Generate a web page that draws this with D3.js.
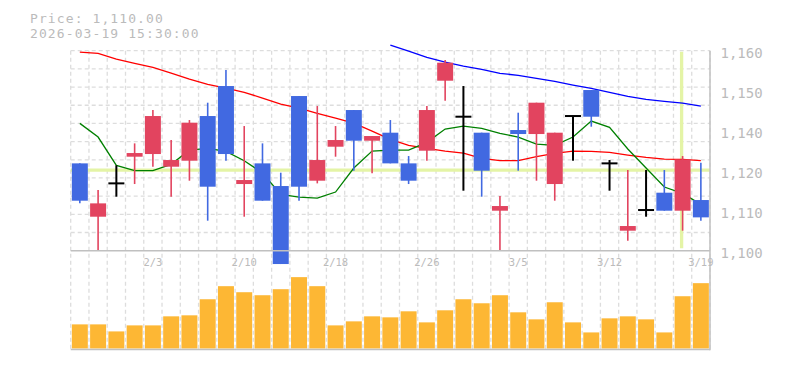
<!DOCTYPE html>
<meta charset="utf-8">
<html>
<script src="https://d3js.org/d3.v7.min.js"></script>
<style>
    body { margin: 0; background: #fff; }
    text { font-family: "DejaVu Sans Mono", "Liberation Mono", monospace; fill: #bbb; }
</style>
<body>
<div id="chart"></div>
<script>

    // daily candles, 1/28 - 3/19
    var dates = ["1/28","1/29","1/30","2/2","2/3","2/4","2/5","2/6","2/9","2/10",
        "2/12","2/13","2/16","2/17","2/18","2/19","2/20","2/24","2/25","2/26",
        "2/27","3/2","3/3","3/4","3/5","3/6","3/9","3/10","3/11","3/12",
        "3/13","3/16","3/17","3/18","3/19"];
    var opens  = [1126.2,1110.2,1120.2,1128.2,1129.0,1125.2,1127.0,1140.4,1149.4,1120.0,
        1126.2,1119.4,1146.4,1121.0,1131.2,1142.2,1133.0,1135.4,1126.2,1130.0,
        1151.0,1140.2,1135.4,1112.0,1136.2,1135.0,1120.0,1140.4,1148.2,1126.2,
        1106.0,1112.2,1117.4,1112.0,1115.2];
    var highs  = [1126.2,1118.2,1125.6,1132.2,1142.2,1133.2,1139.2,1144.4,1154.2,1137.4,
        1132.2,1123.4,1146.4,1143.4,1137.4,1142.2,1134.4,1139.2,1128.4,1143.4,
        1157.2,1149.4,1135.4,1116.4,1141.4,1144.4,1135.4,1140.4,1148.2,1127.2,
        1124.2,1124.2,1124.2,1128.4,1126.4];
    var lows   = [1114.2,1100.0,1116.2,1120.0,1125.2,1116.2,1121.0,1109.0,1127.0,1110.2,
        1115.0,1096.0,1115.0,1120.2,1128.2,1124.0,1123.2,1126.2,1120.0,1127.0,
        1145.0,1118.0,1116.2,1100.0,1124.0,1121.0,1115.0,1127.0,1137.2,1118.0,
        1103.0,1110.2,1112.0,1106.0,1109.0];
    var closes = [1115.0,1114.2,1120.2,1129.3,1140.4,1127.2,1138.4,1119.2,1129.0,1121.2,
        1115.0,1096.0,1119.2,1127.2,1133.2,1133.0,1134.4,1126.2,1121.0,1142.2,
        1156.4,1140.2,1124.0,1113.4,1135.0,1144.4,1135.4,1140.4,1140.2,1126.2,
        1107.4,1112.2,1112.0,1127.4,1110.0];
    var volumes = [24000,24000,17000,23000,23000,32000,33000,49000,62000,56000,
        53000,59000,71000,62000,23000,27000,32000,31000,37000,26000,
        38000,49000,45000,53000,36000,29000,46000,26000,16000,30000,
        32000,29000,16000,52000,65000];

    // moving averages (short / middle / long)
    var ma5  = [1138.2,1134.1,1125.6,1124.0,1124.0,1125.9,1130.2,1130.7,1129.8,1127.0,
        1123.3,1116.9,1116.1,1115.8,1117.6,1124.8,1129.9,1130.2,1130.2,1132.5,
        1136.5,1137.4,1136.7,1135.2,1134.1,1132.0,1131.6,1134.1,1138.9,1137.0,
        1130.5,1124.8,1119.1,1117.2,1113.9];
    var ma25 = [1159.6,1159.2,1157.5,1156.2,1155.0,1153.3,1151.5,1149.9,1148.8,1147.5,
        1145.8,1144.0,1142.8,1141.2,1139.8,1138.3,1135.9,1133.4,1131.6,1130.7,
        1129.9,1129.3,1127.7,1127.0,1127.0,1128.2,1129.2,1129.9,1129.8,1129.5,
        1128.7,1128.0,1127.5,1127.4,1127.0];
    var ma75 = [null,null,null,null,null,null,null,null,null,null,
        null,null,null,null,null,null,null,1161.7,1159.9,1158.0,
        1156.6,1155.4,1154.4,1153.2,1152.6,1151.7,1150.8,1149.7,1148.7,1147.5,
        1146.3,1145.4,1144.8,1144.3,1143.4];

    // axis labels
    var xTickDates = ["2/3","2/10","2/18","2/26","3/5","3/12","3/19"];
    var yTickValues = [1159.4,1147.4,1135.4,1123.4,1111.4,1099.4];
    var yTickLabels = ["1,160","1,150","1,140","1,120","1,110","1,100"];

    // crosshair + header
    var crossDate = "3/18";
    var crossPrice = 1124.2;
    var headerLines = ["Price: 1,110.00", "2026-03-19 15:30:00"];

    var W = 785, H = 370;
    var left = 70.7, right = 710,
        priceTop = 50.7, priceBottom = 250.7,
        volTop = 251, volBottom = 348.5;

    var svg = d3.select("#chart").append("svg")
        .attr("width", W).attr("height", H);

    var x = d3.scaleBand()
        .domain(dates)
        .range([left, right])
        .paddingInner(0.125)
        .paddingOuter(0.0625);
    var step = x.step();
    var cx = function (d) { return x(d) + x.bandwidth() / 2; };

    var y = d3.scaleLinear().domain([1100, 1160]).range([priceBottom, priceTop]);
    var yv = d3.scaleLinear().domain([0, 97000]).range([volBottom, volTop]);

    // grid
    var grid = svg.append("g")
        .attr("stroke", "#ddd")
        .attr("stroke-dasharray", "4,3")
        .attr("stroke-width", 1.3);
    grid.selectAll("line.v").data(d3.range(dates.length + 1)).enter().append("line")
        .attr("x1", function (i) { return left + i * step; })
        .attr("x2", function (i) { return left + i * step; })
        .attr("y1", priceTop).attr("y2", volBottom + 1);
    grid.selectAll("line.h").data(d3.range(11)).enter().append("line")
        .attr("x1", left).attr("x2", right)
        .attr("y1", function (i) { return priceTop + i * (priceBottom - priceTop) / 11; })
        .attr("y2", function (i) { return priceTop + i * (priceBottom - priceTop) / 11; });

    // crosshair
    svg.append("line")
        .attr("x1", cx(crossDate) - 1).attr("x2", cx(crossDate) - 1)
        .attr("y1", priceTop + 1).attr("y2", priceBottom - 2.5)
        .attr("stroke", "#e4f4a6").attr("stroke-width", 3.3);
    svg.append("line")
        .attr("x1", left).attr("x2", right)
        .attr("y1", y(crossPrice)).attr("y2", y(crossPrice))
        .attr("stroke", "#e4f4a6").attr("stroke-width", 3.3);

    // moving averages
    var maLine = function (vals, color) {
        var line = d3.line()
            .defined(function (d) { return d[1] != null; })
            .x(function (d) { return cx(d[0]); })
            .y(function (d) { return y(d[1]); });
        svg.append("path")
            .datum(dates.map(function (d, i) { return [d, vals[i]]; }))
            .attr("fill", "none")
            .attr("stroke", color)
            .attr("stroke-width", 1.3)
            .attr("d", line);
    };
    maLine(ma25, "#ff0000");
    maLine(ma75, "#0000ff");
    maLine(ma5, "#008000");

    // candles
    var candles = dates.map(function (d, i) {
        return { date: d, o: opens[i], h: highs[i], l: lows[i], c: closes[i] };
    });
    var colorOf = function (d) {
        if (d.c > d.o) return "#e2445f";
        if (d.c < d.o) return "#4169e1";
        return "#000";
    };
    var cg = svg.append("g");
    cg.selectAll("line.wick").data(candles).enter().append("line")
        .attr("x1", function (d) { return cx(d.date); })
        .attr("x2", function (d) { return cx(d.date); })
        .attr("y1", function (d) { return y(d.h); })
        .attr("y2", function (d) { return y(d.l); })
        .attr("stroke", colorOf)
        .attr("stroke-width", function (d) { return d.o == d.c ? 2 : 1.6; });
    cg.selectAll("rect.body").data(candles.filter(function (d) { return d.o != d.c; }))
        .enter().append("rect")
        .attr("x", function (d) { return x(d.date); })
        .attr("width", x.bandwidth())
        .attr("y", function (d) { return y(Math.max(d.o, d.c)); })
        .attr("height", function (d) { return Math.abs(y(d.o) - y(d.c)); })
        .attr("fill", colorOf);
    cg.selectAll("line.doji").data(candles.filter(function (d) { return d.o == d.c; }))
        .enter().append("line")
        .attr("x1", function (d) { return x(d.date); })
        .attr("x2", function (d) { return x(d.date) + x.bandwidth(); })
        .attr("y1", function (d) { return y(d.o); })
        .attr("y2", function (d) { return y(d.o); })
        .attr("stroke", "#000").attr("stroke-width", 2);

    // volume
    svg.append("g").selectAll("rect").data(volumes).enter().append("rect")
        .attr("x", function (d, i) { return x(dates[i]); })
        .attr("width", x.bandwidth())
        .attr("y", function (d) { return yv(d); })
        .attr("height", function (d) { return volBottom - yv(d); })
        .attr("fill", "#fdb734");

    // frame
    var frame = svg.append("g").attr("stroke", "#c0c0c0").attr("stroke-width", 1.5);
    frame.append("line").attr("x1", left).attr("x2", right)
        .attr("y1", priceBottom).attr("y2", priceBottom);
    frame.append("line").attr("x1", left).attr("x2", right)
        .attr("y1", volBottom + 1).attr("y2", volBottom + 1);
    frame.append("line").attr("x1", right).attr("x2", right)
        .attr("y1", priceTop).attr("y2", volBottom + 1.7);

    // price labels on the right
    var yAxis = d3.axisRight(y)
        .tickValues(yTickValues)
        .tickSize(0)
        .tickPadding(10.5)
        .tickFormat(function (d, i) { return yTickLabels[i]; });
    svg.append("g")
        .attr("transform", "translate(" + right + ",0)")
        .call(yAxis)
        .call(function (g) { g.select(".domain").remove(); })
        .selectAll("text")
        .attr("fill", "#bbb")
        .style("font-size", "14px");

    // date labels
    svg.append("g").selectAll("text").data(xTickDates).enter().append("text")
        .attr("x", function (d) { return cx(d); })
        .attr("y", 266)
        .attr("text-anchor", "middle")
        .style("font-size", "10.5px")
        .text(function (d) { return d; });

    // header
    svg.append("g").selectAll("text").data(headerLines).enter().append("text")
        .attr("x", 30)
        .attr("y", function (d, i) { return 22.5 + i * 15.2; })
        .style("font-size", "13px")
        .style("letter-spacing", "1.1px")
        .text(function (d) { return d; });

</script>
</body>
</html>
